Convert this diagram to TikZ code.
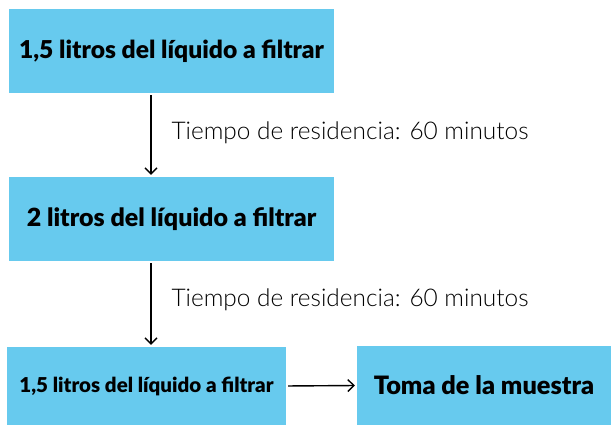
\documentclass[tikz,border=0pt]{standalone}
\usepackage{fontspec}
\setmainfont{Lato}[BoldFont={Lato Black}]
\newfontfamily\lightfont{Lato Light}
\usetikzlibrary{arrows.meta, positioning}
\definecolor{boxblue}{RGB}{103,202,238}
\tikzstyle{process} = [rectangle, inner sep=0pt, text centered, fill=boxblue, font=\bfseries]
\tikzstyle{arrow} = [line width=1.4pt,-{Straight Barb[length=6pt,width=12pt]}]
\tikzstyle{note} = [anchor=west, font=\lightfont\fontsize{24.4}{27}\selectfont]

\begin{document}
\begin{tikzpicture}[x=1pt, y=1pt]
    \useasboundingbox (0,0) rectangle (611,425);

    % Nodes
    \node (litros1) [process, minimum width=325pt, minimum height=84pt, font=\fontsize{24.6}{28}\selectfont\bfseries] at (171.5,374) {1,5 litros del líquido a filtrar};
    \node (litros2) [process, minimum width=325pt, minimum height=84pt, font=\fontsize{25}{28}\selectfont\bfseries] at (171.5,206) {2 litros del líquido a filtrar};
    \node (litros3) [process, minimum width=279pt, minimum height=78pt, font=\fontsize{20.5}{23}\selectfont\bfseries] at (146.5,39) {1,5 litros del líquido a filtrar};
    \node (muestra) [process, minimum width=254pt, minimum height=79pt, font=\fontsize{25.3}{28}\selectfont\bfseries] at (484,39.5) {Toma de la muestra};

    \node (tiempo1) [note] at (168,292) {Tiempo de residencia: 60 minutos};
    \node (tiempo2) [note] at (168,125) {Tiempo de residencia: 60 minutos};

    % Arrows
    \draw [arrow, shorten <=2pt, shorten >=2pt] ([xshift=-20.5pt]litros1.south) -- ([xshift=-20.5pt]litros2.north);
    \draw [arrow, shorten <=2pt, shorten >=2pt] ([xshift=-20.5pt]litros2.south) -- ([xshift=4.5pt]litros3.north);
    \draw [arrow, shorten <=2pt, shorten >=2pt] (litros3.east) -- (muestra.west);

\end{tikzpicture}
\end{document}
